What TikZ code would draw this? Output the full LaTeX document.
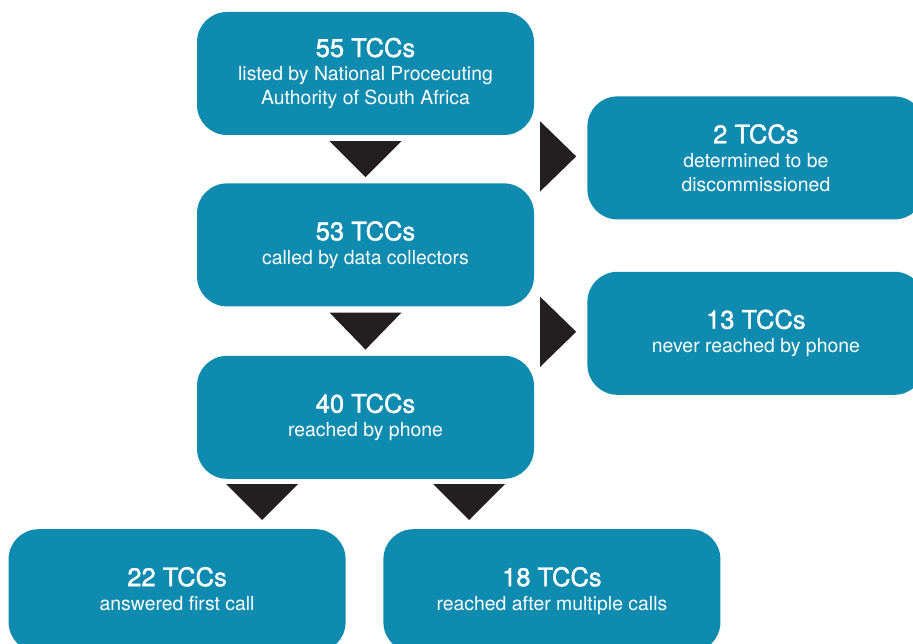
\documentclass[tikz,border=0pt]{standalone}
\usepackage{fontspec}
\setmainfont{TeX Gyre Heros}
\newfontfamily\tccheavy[FakeBold=1.5]{TeX Gyre Heros}
\usetikzlibrary{positioning}
\definecolor{tccteal}{HTML}{0F8BAF}
\definecolor{tccblack}{HTML}{231F20}
\newcommand{\tcctitle}{\tccheavy\fontsize{25.5}{24}\selectfont}
\newcommand{\tccsub}{\fontsize{19.4}{24}\selectfont}

\begin{document}
\begin{tikzpicture}[x=1pt, y=-1pt,
  box/.style={fill=tccteal, text=white, rounded corners=30pt, align=center,
    minimum width=337pt, minimum height=123pt, inner sep=0pt, font=\tccsub},
  tri/.style={fill=tccblack}]
  \clip (0,0) rectangle (913,644);
  \node[box] (n55) at (365.5,73.5) {{\tcctitle 55 TCCs}\\listed by National Procecuting\\Authority of South Africa};
  \node[box, below=48pt of n55] (n53) {{\tcctitle 53 TCCs}\\called by data collectors};
  \node[box, below=49pt of n53] (n40) {{\tcctitle 40 TCCs}\\reached by phone};
  \node[box, below right=-39pt and 53pt of n55] (n2) {{\tcctitle 2 TCCs}\\determined to be\\discommissioned};
  \node[box, below right=-35pt and 53pt of n53] (n13) {{\tcctitle 13 TCCs}\\never reached by phone};
  \node[box, below left=50pt and -149pt of n40] (n22) {{\tcctitle 22 TCCs}\\answered first call\vphantom{p}};
  \node[box, below right=50pt and -151pt of n40] (n18) {{\tcctitle 18 TCCs}\\reached after multiple calls};
  % arrow heads between the boxes
  \fill[tri] ([xshift=-36pt,yshift=-6pt]n55.south) -- ([xshift=36pt,yshift=-6pt]n55.south) -- ([yshift=6pt]n53.north) -- cycle;
  \fill[tri] ([xshift=-36pt,yshift=-6pt]n53.south) -- ([xshift=36pt,yshift=-6pt]n53.south) -- ([yshift=6pt]n40.north) -- cycle;
  \fill[tri] ([xshift=-11pt,yshift=1.5pt]n2.west) -- ++(-36,-35) -- ++(0,70) -- cycle;
  \fill[tri] ([xshift=-11pt,yshift=1.5pt]n13.west) -- ++(-36,-35) -- ++(0,70) -- cycle;
  \fill[tri] ([xshift=-139.5pt,yshift=-5pt]n40.south) -- ++(72,0) -- ++(-36,36) -- cycle;
  \fill[tri] ([xshift=67.5pt,yshift=-5pt]n40.south) -- ++(72,0) -- ++(-36,36) -- cycle;
\end{tikzpicture}
\end{document}
